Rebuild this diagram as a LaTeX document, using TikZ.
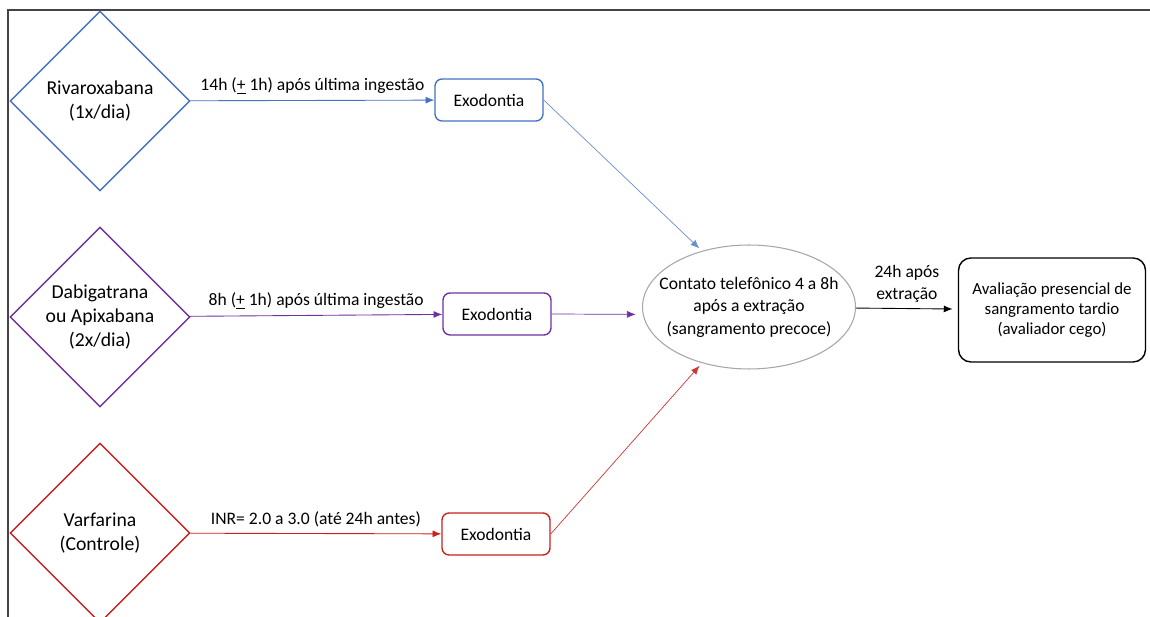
\documentclass[tikz,border=0pt]{standalone}
\usepackage{fontspec}
\setmainfont{Carlito}
\usetikzlibrary{arrows.meta,shapes.geometric}
\definecolor{rivblue}{HTML}{4472C4}
\definecolor{dabpurple}{HTML}{7030A0}
\definecolor{varred}{HTML}{C9211E}
\definecolor{ovalgray}{HTML}{A6A6A6}
\definecolor{framegray}{HTML}{444444}

\begin{document}
\begin{tikzpicture}[x=0.02cm,y=-0.02cm,->,>={Latex[length=5pt,width=4pt]},
    every node/.style={font=\fontsize{10}{12.5}\selectfont,align=center},
    drug node/.style={diamond,draw,line width=0.8pt,minimum size=3.6cm,inner sep=0pt,font=\fontsize{11.2}{13.6}\selectfont},
    exo node/.style={rectangle,draw,rounded corners=4pt,line width=0.8pt,minimum width=2.16cm,minimum height=0.84cm},
    phone node/.style={ellipse,draw=ovalgray,line width=0.6pt,minimum width=4.26cm,minimum height=2.48cm,inner xsep=-8.5pt,inner ysep=0pt,font=\fontsize{10}{12.8}\selectfont},
    visit node/.style={rectangle,draw,rounded corners=7pt,line width=0.8pt,minimum width=3.74cm,minimum height=2.08cm,font=\fontsize{9.6}{11.6}\selectfont}]

  \useasboundingbox (0,0) rectangle (1150,617);
  \draw[-,framegray,line width=0.8pt] (8,620) -- (8,10) -- (1152,10);

  \node[drug node,draw=rivblue]    (riva) at (100,101) {Rivaroxabana\\(1x/dia)};
  \node[drug node,draw=dabpurple]  (dabi) at (100,317) {Dabigatrana\\ou Apixabana\\(2x/dia)};
  \node[drug node,draw=varred]     (varf) at (100,533) {Varfarina\\(Controle)};

  \node[exo node,draw=rivblue]     (ex1) at (489,100) {Exodontia};
  \node[exo node,draw=dabpurple]   (ex2) at (497,314) {Exodontia};
  \node[exo node,draw=varred]      (ex3) at (496,534) {Exodontia};

  \node[phone node]  (contato) at (749,307) {Contato telefônico 4 a 8h\\após a extração\\(sangramento precoce)};
  \node[visit node]  (aval) at (1052,310) {Avaliação presencial de\\sangramento tardio\\(avaliador cego)};

  \draw[rivblue,line width=0.5pt] (riva) -- node[above,text=black] {14h (\underline{+} 1h) após última ingestão} (ex1);
  \draw[dabpurple,line width=0.5pt] (dabi) -- node[above,text=black] {8h (\underline{+} 1h) após última ingestão} (ex2);
  \draw[varred,line width=0.5pt] (varf) -- node[above,text=black] {INR= 2.0 a 3.0 (até 24h antes)} (ex3);

  \draw[rivblue!80,line width=0.4pt,shorten >=2pt] (ex1.east) -- (contato.130);
  \draw[dabpurple,line width=0.4pt,shorten >=4pt] (ex2.east) -- (contato.184);
  \draw[varred!90,line width=0.4pt,shorten >=2pt] (ex3.east) -- (contato.230);

  \draw[black,line width=0.5pt,shorten >=3pt] (contato) -- node[above] {24h após\\extração} (aval);
\end{tikzpicture}
\end{document}
